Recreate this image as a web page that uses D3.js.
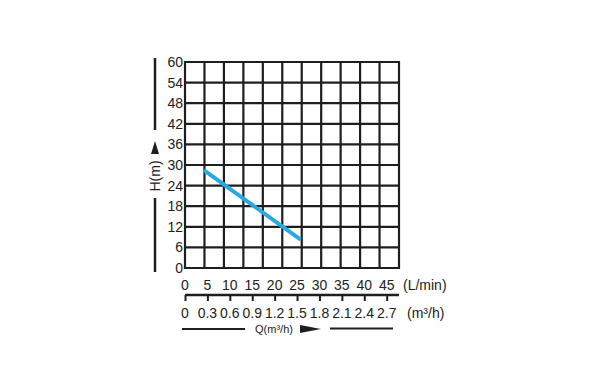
<!DOCTYPE html>
<html>
<head>
<meta charset="utf-8">
<script src="https://cdn.jsdelivr.net/npm/d3@7"></script>
<style>
  body { margin: 0; background: #fff; }
  svg text { font-family: "Liberation Sans", Arial, sans-serif; fill: #222; }
</style>
</head>
<body>
<script>
// chart values
var headTicks = [0, 6, 12, 18, 24, 30, 36, 42, 48, 54, 60];
var flowLminTicks = [0, 5, 10, 15, 20, 25, 30, 35, 40, 45];
var flowM3hTicks = ["0", "0.3", "0.6", "0.9", "1.2", "1.5", "1.8", "2.1", "2.4", "2.7"];
var gridCols = [0, 5, 10, 15, 20, 25, 30, 35, 40, 45, 50, 55];
var curveFlow = [4.2, 15, 25.8];
var curveHead = [28.5, 18.4, 8.3];

var width = 590, height = 372;
var gLeft = 185, gRight = 399, gTop = 62, gBottom = 268;

var svg = d3.select("body").append("svg")
  .attr("width", width)
  .attr("height", height);

var yScale = d3.scaleLinear().domain([0, 60]).range([gBottom, gTop]);
// grid columns span 11 cells
var xGrid = d3.scaleLinear().domain([0, 55]).range([gLeft, gRight]);
// flow labels are laid out on their own spacing
var xFlow = d3.scaleLinear().domain([0, 45]).range([gLeft, 386.7]);

var ink = "#1e1e1e";
var fs = 14;

// grid
var grid = svg.append("g");
grid.selectAll("line.h")
  .data(headTicks)
  .enter().append("line")
  .attr("x1", gLeft - 1).attr("x2", gRight + 1)
  .attr("y1", function(d) { return yScale(d); })
  .attr("y2", function(d) { return yScale(d); })
  .attr("stroke", ink).attr("stroke-width", 2.2);
grid.selectAll("line.v")
  .data(gridCols)
  .enter().append("line")
  .attr("y1", gTop - 1).attr("y2", gBottom + 1)
  .attr("x1", function(d) { return xGrid(d); })
  .attr("x2", function(d) { return xGrid(d); })
  .attr("stroke", ink).attr("stroke-width", 2.2);

// y labels
svg.append("g").selectAll("text")
  .data(headTicks)
  .enter().append("text")
  .attr("x", 183)
  .attr("y", function(d) { return yScale(d); })
  .attr("dy", "0.36em")
  .attr("text-anchor", "end")
  .attr("font-size", fs)
  .text(function(d) { return d; });

// H(m) axis title with arrow
svg.append("line").attr("x1", 155).attr("x2", 155).attr("y1", 58).attr("y2", 130)
  .attr("stroke", ink).attr("stroke-width", 2.5);
svg.append("path").attr("d", "M155,141 L151,154 L159,154 Z").attr("fill", ink);
svg.append("text")
  .attr("transform", "translate(160,176) rotate(-90)")
  .attr("text-anchor", "middle")
  .attr("font-size", fs)
  .text("H(m)");
svg.append("line").attr("x1", 155).attr("x2", 155).attr("y1", 198).attr("y2", 272)
  .attr("stroke", ink).attr("stroke-width", 2.5);

// L/min labels
svg.append("g").selectAll("text")
  .data(flowLminTicks)
  .enter().append("text")
  .attr("x", function(d) { return xFlow(d); })
  .attr("y", 285)
  .attr("dy", "0.36em")
  .attr("text-anchor", "middle")
  .attr("font-size", fs)
  .text(function(d) { return d; });
svg.append("text").attr("x", 403).attr("y", 285).attr("dy", "0.36em")
  .attr("font-size", fs).text("(L/min)");

// m3/h axis line with ticks
var xAxis = d3.axisBottom(xFlow)
  .tickValues(flowLminTicks)
  .tickSize(6)
  .tickSizeOuter(0)
  .tickFormat("");
var axisG = svg.append("g")
  .attr("transform", "translate(0,295)")
  .call(xAxis);
axisG.select(".domain").attr("d", "M" + gLeft + ",0H" + gRight)
  .attr("stroke", ink).attr("stroke-width", 2.5);
axisG.selectAll(".tick line").attr("stroke", ink).attr("stroke-width", 2);

svg.append("g").selectAll("text")
  .data(flowM3hTicks)
  .enter().append("text")
  .attr("x", function(d, i) { return xFlow(flowLminTicks[i]); })
  .attr("y", 313)
  .attr("dy", "0.36em")
  .attr("text-anchor", "middle")
  .attr("font-size", fs)
  .text(function(d) { return d; });
svg.append("text").attr("x", 407).attr("y", 313).attr("dy", "0.36em")
  .attr("font-size", fs).text("(m³/h)");

// Q(m3/h) title with arrow
svg.append("line").attr("x1", 182).attr("x2", 245).attr("y1", 329).attr("y2", 329)
  .attr("stroke", ink).attr("stroke-width", 2);
svg.append("text").attr("x", 274).attr("y", 329).attr("dy", "0.36em")
  .attr("text-anchor", "middle").attr("font-size", 11).text("Q(m³/h)");
svg.append("path").attr("d", "M300,325 L321,329 L300,333 Z").attr("fill", ink);
svg.append("line").attr("x1", 330).attr("x2", 393).attr("y1", 328.5).attr("y2", 328.5)
  .attr("stroke", ink).attr("stroke-width", 2);

// pump curve
var curve = curveFlow.map(function(q, i) { return [q, curveHead[i]]; });
svg.append("path")
  .datum(curve)
  .attr("fill", "none")
  .attr("stroke", "#27a9e1")
  .attr("stroke-width", 4)
  .attr("d", d3.line()
    .x(function(d) { return xFlow(d[0]); })
    .y(function(d) { return yScale(d[1]); }));
</script>
</body>
</html>
